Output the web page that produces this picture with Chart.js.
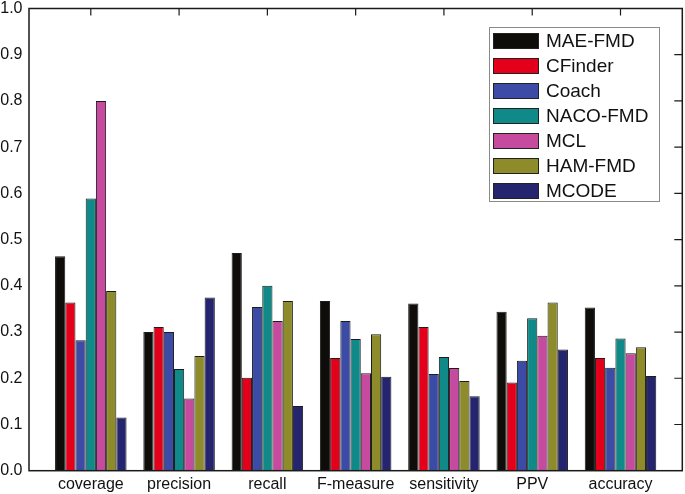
<!DOCTYPE html>
<html>
<head>
<meta charset="utf-8">
<script src="https://cdn.jsdelivr.net/npm/chart.js@4"></script>
<style>
  body { margin: 0; background: #fff; }
  canvas { display: block; }
</style>
</head>
<body>
<canvas id="chart" width="685" height="494"></canvas>
<script>
// Catégories et séries
const categories = ['coverage', 'precision', 'recall', 'F-measure', 'sensitivity', 'PPV', 'accuracy'];
const maeFmd  = [0.464, 0.300, 0.471, 0.367, 0.362, 0.344, 0.353];
const cfinder = [0.364, 0.311, 0.201, 0.244, 0.311, 0.191, 0.244];
const coach   = [0.282, 0.300, 0.354, 0.324, 0.209, 0.238, 0.223];
const nacoFmd = [0.589, 0.220, 0.400, 0.285, 0.246, 0.330, 0.286];
const mcl     = [0.800, 0.156, 0.324, 0.211, 0.222, 0.292, 0.254];
const hamFmd  = [0.389, 0.248, 0.367, 0.295, 0.194, 0.364, 0.267];
const mcode   = [0.115, 0.375, 0.140, 0.203, 0.161, 0.262, 0.205];
const yTicks  = [0.1, 0.2, 0.3, 0.4, 0.5, 0.6, 0.7, 0.8, 0.9];

const series = [
  { label: 'MAE-FMD',  values: maeFmd,  color: '#0f0d0a' },
  { label: 'CFinder',  values: cfinder, color: '#e4001b' },
  { label: 'Coach',    values: coach,   color: '#3c4ba6' },
  { label: 'NACO-FMD', values: nacoFmd, color: '#0f8a88' },
  { label: 'MCL',      values: mcl,     color: '#c64a9e' },
  { label: 'HAM-FMD',  values: hamFmd,  color: '#8d8b2a' },
  { label: 'MCODE',    values: mcode,   color: '#25256f' }
];

const FONT = "'Liberation Sans', Arial, sans-serif";

// Cadre + graduations intérieures (haut et droite)
const framePlugin = {
  id: 'frame',
  afterDatasetsDraw(chart) {
    const { ctx, chartArea: a, scales } = chart;
    ctx.save();
    ctx.strokeStyle = '#1a1a1a';
    ctx.lineWidth = 1.5;
    ctx.strokeRect(a.left, a.top, a.right - a.left, a.bottom - a.top);
    ctx.lineWidth = 1.2;
    ctx.beginPath();
    categories.forEach((c, i) => {
      const x = scales.x.getPixelForValue(i + 1);
      ctx.moveTo(x, a.top);
      ctx.lineTo(x, a.top + 7);
    });
    yTicks.forEach(v => {
      const y = scales.y.getPixelForValue(v);
      ctx.moveTo(a.right, y);
      ctx.lineTo(a.right - 8, y);
    });
    ctx.stroke();
    ctx.restore();
  }
};

// Légende dans la zone du graphique
const legendPlugin = {
  id: 'boxLegend',
  afterDraw(chart) {
    const { ctx } = chart;
    const left = 489, top = 27, w = 170, h = 174;
    ctx.save();
    ctx.fillStyle = '#fff';
    ctx.fillRect(left, top, w, h);
    ctx.strokeStyle = '#8a8a8a';
    ctx.lineWidth = 1;
    ctx.strokeRect(left + 0.5, top + 0.5, w, h);
    ctx.font = '19px ' + FONT;
    ctx.textBaseline = 'middle';
    chart.data.datasets.forEach((ds, i) => {
      const cy = 41 + i * 25;
      ctx.fillStyle = ds.backgroundColor;
      ctx.fillRect(493, cy - 8, 46, 16);
      ctx.strokeStyle = '#222';
      ctx.strokeRect(493.5, cy - 7.5, 45, 15);
      ctx.fillStyle = '#111';
      ctx.fillText(ds.label, 546, cy + 1);
    });
    ctx.restore();
  }
};

new Chart(document.getElementById('chart'), {
  type: 'bar',
  data: {
    datasets: series.map(s => ({
      label: s.label,
      data: s.values.map((v, i) => ({ x: i + 1, y: v })),
      backgroundColor: s.color,
      borderColor: '#1c1c1c',
      borderWidth: 1,
      barPercentage: 1,
      categoryPercentage: 0.81
    }))
  },
  options: {
    responsive: false,
    animation: false,
    layout: { padding: { top: 8.5, right: 2.7, left: 0, bottom: 0 } },
    plugins: {
      legend: { display: false },
      tooltip: { enabled: false }
    },
    scales: {
      x: {
        type: 'linear',
        offset: false,
        min: 0.3,
        max: 7.7,
        grid: { display: false, drawTicks: false, offset: false },
        border: { display: false },
        afterFit(scale) {
          scale.height = 23.3;
          scale.paddingLeft = 0;
          scale.paddingRight = 0;
        },
        ticks: {
          stepSize: 1,
          includeBounds: false,
          autoSkip: false,
          maxRotation: 0,
          padding: 4,
          color: '#111',
          font: { family: FONT, size: 16 },
          callback: v => categories[Math.round(v) - 1] || ''
        }
      },
      y: {
        min: 0,
        max: 1,
        grid: { display: false, drawTicks: false },
        border: { display: false },
        afterFit(scale) {
          scale.width = 29;
          scale.paddingTop = 0;
          scale.paddingBottom = 0;
        },
        ticks: {
          stepSize: 0.1,
          padding: 6.5,
          color: '#111',
          font: { family: FONT, size: 16 },
          callback: v => v.toFixed(1)
        }
      }
    }
  },
  plugins: [framePlugin, legendPlugin]
});
</script>
</body>
</html>
